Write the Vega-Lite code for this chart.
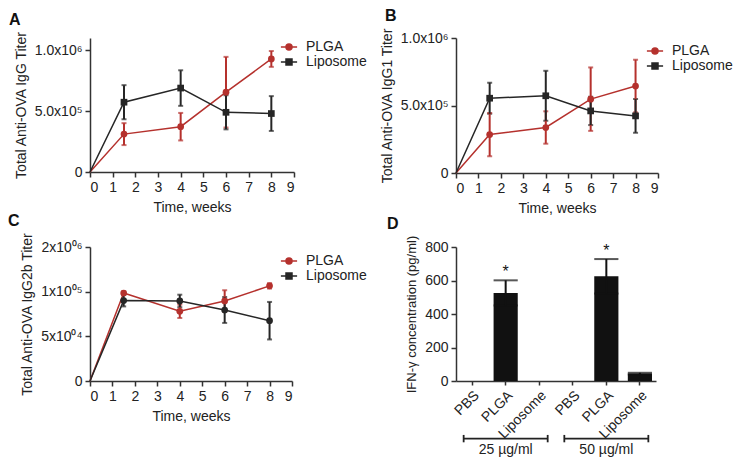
{
  "$schema": "https://vega.github.io/schema/vega-lite/v6.json",
  "padding": {"left": 8, "top": 8, "right": 0, "bottom": 0},
  "background": "white",
  "config": {
    "font": "Liberation Sans",
    "view": {"stroke": null},
    "axis": {"grid": false, "domainColor": "#333", "domainWidth": 1.5, "tickColor": "#333", "tickWidth": 1.5, "tickSize": 5, "labelFontSize": 14, "titleFontSize": 14, "titleFontWeight": "normal", "labelColor": "#222", "titleColor": "#222", "labelPadding": 3, "titlePadding": 6},
    "title": {"fontSize": 16, "fontWeight": "bold", "anchor": "start", "frame": "group", "color": "#111", "offset": 3},
    "legend": {"labelFontSize": 14, "labelColor": "#222"}
  },
  "resolve": {"scale": {"color": "independent"}, "legend": {"color": "independent"}},
  "columns": 2,
  "spacing": {"row": -3, "column": 13},
  "concat": [
    {
      "width": 204, "height": 134,
      "title": {"text": "A", "dx": -81},
      "data": {"values": [
        {"series": "PLGA", "week": 0, "titer": 0, "err": 0},
        {"series": "PLGA", "week": 1.5, "titer": 311000, "err": 90000},
        {"series": "PLGA", "week": 4, "titer": 372000, "err": 113000},
        {"series": "PLGA", "week": 6, "titer": 655000, "err": 290000},
        {"series": "PLGA", "week": 8, "titer": 928000, "err": 65000},
        {"series": "Liposome", "week": 0, "titer": 0, "err": 0},
        {"series": "Liposome", "week": 1.5, "titer": 573000, "err": 140000},
        {"series": "Liposome", "week": 4, "titer": 689000, "err": 146000},
        {"series": "Liposome", "week": 6, "titer": 490000, "err": 140000},
        {"series": "Liposome", "week": 8, "titer": 480000, "err": 143000}
      ]},
      "encoding": {
        "x": {"field": "week", "type": "quantitative", "scale": {"domain": [0, 9]}, "axis": {"values": [0,1,2,3,4,5,6,7,8,9], "title": "Time, weeks"}},
        "y": {"field": "titer", "type": "quantitative", "scale": {"domain": [0, 1100000]}, "axis": {"values": [0, 500000, 1000000], "labelExpr": "datum.value == 0 ? '0' : datum.value == 500000 ? '5.0x10⁵' : '1.0x10⁶'", "title": "Total Anti-OVA IgG Titer"}},
        "color": {"field": "series", "type": "nominal", "scale": {"domain": ["PLGA", "Liposome"], "range": ["#b5312d", "#262626"]},
          "legend": {"orient": "none", "legendX": 192, "legendY": 2, "title": null, "symbolSize": 144, "rowPadding": 1, "labelOffset": 10,
             "encode": {"symbols": {"update": {
               "shape": {"signal": "datum.value === 'PLGA' ? 'M-1.35,0H1.35M-0.5,0A0.5,0.5 0 1,0 0.5,0A0.5,0.5 0 1,0 -0.5,0Z' : 'M-1.35,0H1.35M-0.5,-0.5H0.5V0.5H-0.5Z'"},
               "stroke": {"signal": "datum.value === 'PLGA' ? '#b5312d' : '#262626'"},
               "fill": {"signal": "datum.value === 'PLGA' ? '#b5312d' : '#262626'"},
               "strokeWidth": {"value": 1.5}}}}}}
      },
      "layer": [
        {"mark": {"type": "line", "strokeWidth": 1.5}},
        {"transform": [{"filter": "datum.week > 0"}], "mark": {"type": "errorbar", "ticks": true, "thickness": 2}, "encoding": {"yError": {"field": "err"}}},
        {"transform": [{"filter": "datum.week > 0 && datum.series == 'PLGA'"}], "mark": {"type": "point", "filled": true, "opacity": 1, "size": 45, "shape": "circle"}},
        {"transform": [{"filter": "datum.week > 0 && datum.series == 'Liposome'"}], "mark": {"type": "point", "filled": true, "opacity": 1, "size": 45, "shape": "square"}}
      ]
    },
    {
      "width": 202, "height": 135,
      "title": {"text": "B", "dx": -71},
      "data": {"values": [
        {"series": "PLGA", "week": 0, "titer": 0, "err": 0},
        {"series": "PLGA", "week": 1.5, "titer": 285000, "err": 160000},
        {"series": "PLGA", "week": 4, "titer": 337000, "err": 120000},
        {"series": "PLGA", "week": 6, "titer": 547000, "err": 235000},
        {"series": "PLGA", "week": 8, "titer": 644000, "err": 195000},
        {"series": "Liposome", "week": 0, "titer": 0, "err": 0},
        {"series": "Liposome", "week": 1.5, "titer": 554000, "err": 115000},
        {"series": "Liposome", "week": 4, "titer": 572000, "err": 185000},
        {"series": "Liposome", "week": 6, "titer": 460000, "err": 105000},
        {"series": "Liposome", "week": 8, "titer": 423000, "err": 125000}
      ]},
      "encoding": {
        "x": {"field": "week", "type": "quantitative", "scale": {"domain": [0, 9]}, "axis": {"values": [0,1,2,3,4,5,6,7,8,9], "title": "Time, weeks"}},
        "y": {"field": "titer", "type": "quantitative", "scale": {"domain": [0, 1000000]}, "axis": {"values": [0, 500000, 1000000], "labelExpr": "datum.value == 0 ? '0' : datum.value == 500000 ? '5.0x10⁵' : '1.0x10⁶'", "title": "Total Anti-OVA IgG1 Titer"}},
        "color": {"field": "series", "type": "nominal", "scale": {"domain": ["PLGA", "Liposome"], "range": ["#b5312d", "#262626"]},
          "legend": {"orient": "none", "legendX": 192, "legendY": 6, "title": null, "symbolSize": 144, "rowPadding": 1, "labelOffset": 10,
             "encode": {"symbols": {"update": {
               "shape": {"signal": "datum.value === 'PLGA' ? 'M-1.35,0H1.35M-0.5,0A0.5,0.5 0 1,0 0.5,0A0.5,0.5 0 1,0 -0.5,0Z' : 'M-1.35,0H1.35M-0.5,-0.5H0.5V0.5H-0.5Z'"},
               "stroke": {"signal": "datum.value === 'PLGA' ? '#b5312d' : '#262626'"},
               "fill": {"signal": "datum.value === 'PLGA' ? '#b5312d' : '#262626'"},
               "strokeWidth": {"value": 1.5}}}}}}
      },
      "layer": [
        {"mark": {"type": "line", "strokeWidth": 1.5}},
        {"transform": [{"filter": "datum.week > 0"}], "mark": {"type": "errorbar", "ticks": true, "thickness": 2}, "encoding": {"yError": {"field": "err"}}},
        {"transform": [{"filter": "datum.week > 0 && datum.series == 'PLGA'"}], "mark": {"type": "point", "filled": true, "opacity": 1, "size": 45, "shape": "circle"}},
        {"transform": [{"filter": "datum.week > 0 && datum.series == 'Liposome'"}], "mark": {"type": "point", "filled": true, "opacity": 1, "size": 45, "shape": "square"}}
      ]
    },
    {
      "width": 202, "height": 134,
      "title": {"text": "C", "dx": -82},
      "data": {"values": [
        {"series": "PLGA", "week": 0, "titer": 0, "err": 0},
        {"series": "PLGA", "week": 1.5, "titer": 98500, "err": 1500},
        {"series": "PLGA", "week": 4, "titer": 78000, "err": 7500},
        {"series": "PLGA", "week": 6, "titer": 89600, "err": 12000},
        {"series": "PLGA", "week": 8, "titer": 106500, "err": 3000},
        {"series": "Liposome", "week": 0, "titer": 0, "err": 0},
        {"series": "Liposome", "week": 1.5, "titer": 90000, "err": 6500},
        {"series": "Liposome", "week": 4, "titer": 89600, "err": 7000},
        {"series": "Liposome", "week": 6, "titer": 79500, "err": 14500},
        {"series": "Liposome", "week": 8, "titer": 67500, "err": 21000}
      ]},
      "encoding": {
        "x": {"field": "week", "type": "quantitative", "scale": {"domain": [0, 9]}, "axis": {"values": [0,1,2,3,4,5,6,7,8,9], "title": "Time, weeks"}},
        "y": {"field": "titer", "type": "quantitative", "scale": {"domain": [0, 150000]}, "axis": {"values": [0, 50000, 100000, 150000], "labelExpr": "datum.value == 0 ? '0' : datum.value == 50000 ? '5x10⁰⁴' : datum.value == 100000 ? '1x10⁰⁵' : '2x10⁰⁶'", "title": "Total Anti-OVA IgG2b Titer"}},
        "color": {"field": "series", "type": "nominal", "scale": {"domain": ["PLGA", "Liposome"], "range": ["#b5312d", "#262626"]},
          "legend": {"orient": "none", "legendX": 192, "legendY": 7, "title": null, "symbolSize": 144, "rowPadding": 1, "labelOffset": 10,
             "encode": {"symbols": {"update": {
               "shape": {"signal": "datum.value === 'PLGA' ? 'M-1.35,0H1.35M-0.5,0A0.5,0.5 0 1,0 0.5,0A0.5,0.5 0 1,0 -0.5,0Z' : 'M-1.35,0H1.35M-0.5,-0.5H0.5V0.5H-0.5Z'"},
               "stroke": {"signal": "datum.value === 'PLGA' ? '#b5312d' : '#262626'"},
               "fill": {"signal": "datum.value === 'PLGA' ? '#b5312d' : '#262626'"},
               "strokeWidth": {"value": 1.5}}}}}}
      },
      "layer": [
        {"mark": {"type": "line", "strokeWidth": 1.5}},
        {"transform": [{"filter": "datum.week > 0"}], "mark": {"type": "errorbar", "ticks": true, "thickness": 2}, "encoding": {"yError": {"field": "err"}}},
        {"transform": [{"filter": "datum.week > 0"}], "mark": {"type": "point", "filled": true, "opacity": 1, "size": 45, "shape": "circle"}}
      ]
    },
    {
      "width": 200, "height": 134,
      "title": {"text": "D", "dx": -69},
      "layer": [
        {
          "data": {"values": [
            {"key": "PBS|25", "value": 0, "err": 0},
            {"key": "PLGA|25", "value": 526, "err": 75},
            {"key": "Liposome|25", "value": 0, "err": 0},
            {"key": "PBS|50", "value": 0, "err": 0},
            {"key": "PLGA|50", "value": 625, "err": 103},
            {"key": "Liposome|50", "value": 44, "err": 5}
          ]},
          "layer": [
            {"mark": {"type": "bar", "color": "#111"},
             "encoding": {
               "x": {"field": "key", "type": "nominal", "scale": {"domain": ["PBS|25", "PLGA|25", "Liposome|25", "PBS|50", "PLGA|50", "Liposome|50"], "paddingInner": 0.28, "paddingOuter": 0.12},
                     "axis": {"title": null, "labelExpr": "split(datum.label, '|')[0]", "labelAngle": -45, "tickSize": 4}},
               "y": {"field": "value", "type": "quantitative", "scale": {"domain": [0, 800]}, "axis": {"values": [0, 200, 400, 600, 800], "title": "IFN-γ concentration (pg/ml)", "titleFontSize": 13}}
             }},
            {"transform": [{"filter": "datum.err > 0"}], "mark": {"type": "errorbar", "ticks": true, "thickness": 2, "color": "#111"},
             "encoding": {
               "x": {"field": "key", "type": "nominal", "axis": {"title": null, "labelExpr": "split(datum.label, '|')[0]", "labelAngle": -45, "tickSize": 4}},
               "y": {"field": "value", "type": "quantitative", "axis": {"values": [0, 200, 400, 600, 800], "title": "IFN-γ concentration (pg/ml)", "titleFontSize": 13}},
               "yError": {"field": "err"}
             }},
            {"transform": [{"filter": "datum.value > 300"}, {"calculate": "datum.value + datum.err", "as": "top"}],
             "mark": {"type": "text", "text": "*", "fontSize": 16, "dy": -8, "color": "#111"},
             "encoding": {
               "x": {"field": "key", "type": "nominal", "axis": {"title": null, "labelExpr": "split(datum.label, '|')[0]", "labelAngle": -45, "tickSize": 4}},
               "y": {"field": "top", "type": "quantitative", "axis": {"values": [0, 200, 400, 600, 800], "title": "IFN-γ concentration (pg/ml)", "titleFontSize": 13}}
             }}
          ]
        },
        {
          "data": {"values": [
            {"group": "25 µg/ml", "start": "PBS|25", "mid": "PLGA|25", "end": "Liposome|25"},
            {"group": "50 µg/ml", "start": "PBS|50", "mid": "PLGA|50", "end": "Liposome|50"}
          ]},
          "layer": [
            {"mark": {"type": "rule", "strokeWidth": 1.8, "color": "#222"},
             "encoding": {
               "x": {"field": "start", "type": "nominal", "bandPosition": 0.15, "axis": {"title": null, "labelExpr": "split(datum.label, '|')[0]", "labelAngle": -45, "tickSize": 4}},
               "x2": {"field": "end", "bandPosition": 0.85},
               "y": {"datum": -344, "type": "quantitative", "axis": {"values": [0, 200, 400, 600, 800], "title": "IFN-γ concentration (pg/ml)", "titleFontSize": 13}}
             }},
            {"mark": {"type": "rule", "strokeWidth": 1.8, "color": "#222"},
             "encoding": {
               "x": {"field": "start", "type": "nominal", "bandPosition": 0.15, "axis": {"title": null, "labelExpr": "split(datum.label, '|')[0]", "labelAngle": -45, "tickSize": 4}},
               "y": {"datum": -322, "type": "quantitative", "axis": {"values": [0, 200, 400, 600, 800], "title": "IFN-γ concentration (pg/ml)", "titleFontSize": 13}},
               "y2": {"datum": -366}
             }},
            {"mark": {"type": "rule", "strokeWidth": 1.8, "color": "#222"},
             "encoding": {
               "x": {"field": "end", "type": "nominal", "bandPosition": 0.85, "axis": {"title": null, "labelExpr": "split(datum.label, '|')[0]", "labelAngle": -45, "tickSize": 4}},
               "y": {"datum": -322, "type": "quantitative", "axis": {"values": [0, 200, 400, 600, 800], "title": "IFN-γ concentration (pg/ml)", "titleFontSize": 13}},
               "y2": {"datum": -366}
             }},
            {"mark": {"type": "text", "fontSize": 14, "color": "#222", "baseline": "middle"},
             "encoding": {
               "x": {"field": "mid", "type": "nominal", "axis": {"title": null, "labelExpr": "split(datum.label, '|')[0]", "labelAngle": -45, "tickSize": 4}},
               "y": {"datum": -410, "type": "quantitative", "axis": {"values": [0, 200, 400, 600, 800], "title": "IFN-γ concentration (pg/ml)", "titleFontSize": 13}},
               "text": {"field": "group"}
             }}
          ]
        }
      ]
    }
  ]
}
